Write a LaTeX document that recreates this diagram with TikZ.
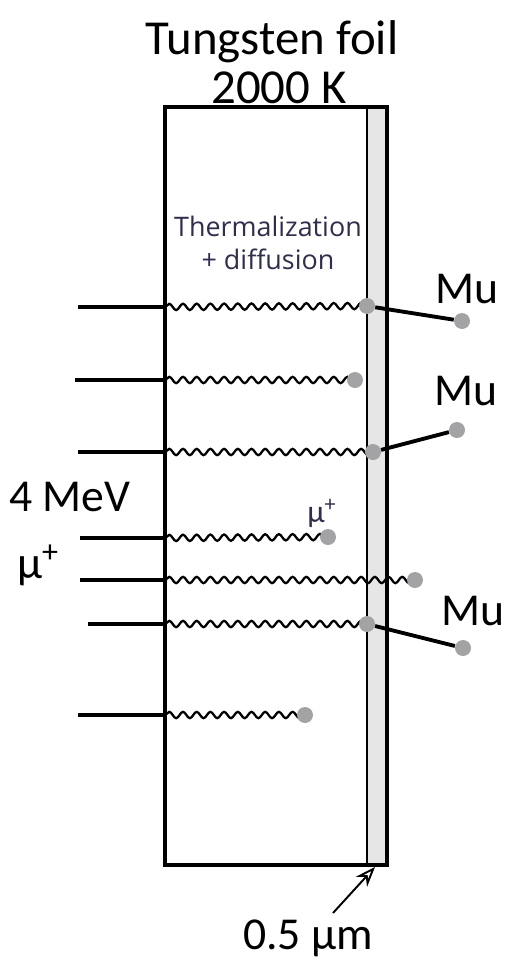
\documentclass[tikz,border=0pt]{standalone}
\usepackage{fontspec}
\setmainfont{Carlito}
\newfontfamily\notefont{Open Sans}
\usepackage{xcolor}
\usetikzlibrary{decorations.pathmorphing,arrows.meta}
\definecolor{dotgray}{HTML}{A3A3A5}
\definecolor{stripgray}{HTML}{E6E6E6}
\definecolor{notenavy}{HTML}{2F2E4C}

\begin{document}
\begin{tikzpicture}[x=0.02cm, y=-0.02cm,
  big/.style={font=\fontsize{26}{30}\selectfont, inner sep=0pt},
  title/.style={font=\fontsize{27.8}{30}\selectfont, inner sep=0pt},
  note/.style={font=\notefont\fontsize{15.3}{19}\selectfont, text=notenavy, inner sep=0pt},
  beam/.style={line width=2.3pt},
  wave/.style={line width=1.3pt, decorate, decoration={snake, segment length=7.8pt, amplitude=1.8pt}},
  link/.style={line width=2.2pt},
  dot/.style={circle, fill=dotgray, inner sep=0pt, minimum size=0.32cm},
  frame/.style={line width=2.3pt}]
\useasboundingbox (0,0) rectangle (514,960);
% foil with the thin surface layer
\filldraw[fill=stripgray, draw=black, line width=0.9pt] (367,107) rectangle (387,865);
\draw[frame] (165,107) rectangle (387,865);
\node[title] (title) at (272,42) {Tungsten foil};
\node[title] (temp) at (279,88) {2000 K};
\node[note, align=center] (therm) at (268,243) {Thermalization\\ + diffusion};
% muon tracks
\coordinate (s1) at (78,307);  \coordinate (e1) at (165,307);  \coordinate (p1) at (367,306);
\coordinate (s2) at (75,380);  \coordinate (e2) at (165,380);  \coordinate (p2) at (355,380);
\coordinate (s3) at (78,452);  \coordinate (e3) at (165,452);  \coordinate (p3) at (373,452);
\coordinate (s4) at (80,538);  \coordinate (e4) at (165,538);  \coordinate (p4) at (328,537);
\coordinate (s5) at (80,580);  \coordinate (e5) at (165,580);  \coordinate (p5) at (415,580);
\coordinate (s6) at (88,624);  \coordinate (e6) at (165,624);  \coordinate (p6) at (367,624);
\coordinate (s7) at (78,715);  \coordinate (e7) at (165,715);  \coordinate (p7) at (305,715);
\draw[beam] (s1) -- (e1);  \draw[wave] (e1) -- (p1);
\draw[beam] (s2) -- (e2);  \draw[wave] (e2) -- (p2);
\draw[beam] (s3) -- (e3);  \draw[wave] (e3) -- (p3);
\draw[beam] (s4) -- (e4);  \draw[wave] (e4) -- (p4);
\draw[beam] (s5) -- (e5);  \draw[wave] (e5) -- (p5);
\draw[beam] (s6) -- (e6);  \draw[wave] (e6) -- (p6);
\draw[beam] (s7) -- (e7);  \draw[wave] (e7) -- (p7);
\node[dot] (d1) at (p1) {};
\node[dot] (d2) at (p2) {};
\node[dot] (d3) at (p3) {};
\node[dot] (d4) at (p4) {};
\node[dot] (d5) at (p5) {};
\node[dot] (d6) at (p6) {};
\node[dot] (d7) at (p7) {};
% muonium leaving the surface
\node[dot] (mu1) at (462,321) {};
\node[dot] (mu3) at (457,430) {};
\node[dot] (mu6) at (463,648) {};
\draw[link] (d1) -- (mu1);
\draw[link] (d3) -- (mu3);
\draw[link] (d6) -- (mu6);
\node[big] (lab1) at (467,289) {Mu};
\node[big] (lab3) at (466,391) {Mu};
\node[big] (lab6) at (473,611) {Mu};
\node[inner sep=0pt, text=notenavy, font=\fontsize{18}{20}\selectfont] (muplus) at (322,513) {μ\textsuperscript{+}};
% beam label
\node[big] (energy) at (70,497) {4 MeV};
\node[big] (beamlab) at (38,565) {μ\textsuperscript{+}};
% layer thickness
\coordinate (stripbot) at (375,867);
\node[big] (thick) at (308,938) {0.5 μm};
\coordinate (tail) at (333,913);
\draw[-{Stealth[open, length=4mm, width=3mm]}, line width=1.1pt] (tail) -- (stripbot);
\end{tikzpicture}
\end{document}
